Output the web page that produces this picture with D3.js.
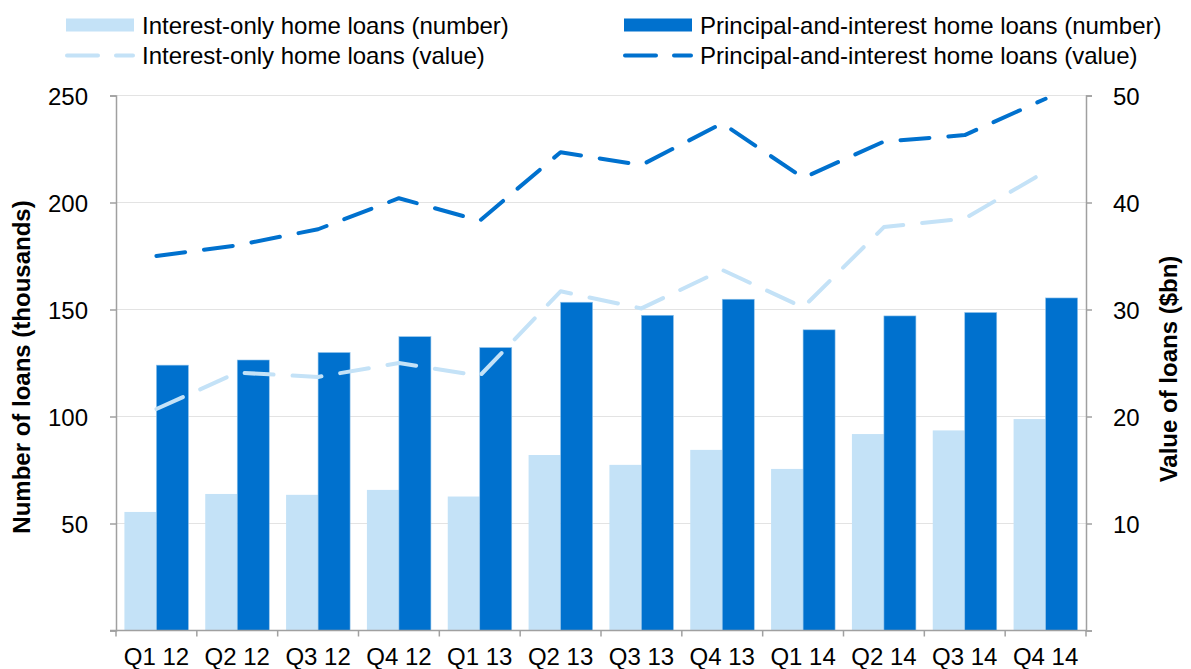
<!DOCTYPE html>
<html>

<head>
    <script src="https://d3js.org/d3.v7.min.js" charset="utf-8"></script>
    <style>
        body {
            margin: 0;
            background: #fff;
        }

        svg {
            font-family: "Liberation Sans", Arial, sans-serif;
        }

        .axis path,
        .axis line {
            stroke: #a0a0a0;
            stroke-width: 1.5;
        }

        .axis text {
            font-size: 24px;
            fill: #000;
        }

        .grid line {
            stroke: #e3e3e3;
            stroke-width: 1.2;
        }
    </style>
</head>

<body>
    <script>
        // Quarterly data
        var quarters = ["Q1 12", "Q2 12", "Q3 12", "Q4 12", "Q1 13", "Q2 13", "Q3 13", "Q4 13", "Q1 14", "Q2 14", "Q3 14", "Q4 14"];
        // number of loans, thousands (left axis)
        var ioNumber = [55.4, 63.8, 63.4, 65.7, 62.6, 82.0, 77.4, 84.4, 75.5, 91.8, 93.5, 98.8];
        var piNumber = [124.0, 126.4, 129.9, 137.3, 132.2, 153.4, 147.3, 154.8, 140.5, 147.0, 148.6, 155.4];
        // value of loans, $bn (right axis)
        var ioValue = [20.7, 24.1, 23.7, 25.0, 23.8, 31.7, 30.1, 33.7, 30.2, 37.7, 38.5, 42.9];
        var piValue = [35.0, 36.0, 37.5, 40.4, 38.3, 44.7, 43.5, 47.4, 42.3, 45.7, 46.3, 49.7];
        var leftTicks = [0, 50, 100, 150, 200, 250];
        var rightTicks = [0, 10, 20, 30, 40, 50];

        var lightBlue = "#c4e2f7",
            darkBlue = "#0071ce";

        var W = 1191,
            H = 669,
            margin = { top: 95.5, right: 105, bottom: 38.5, left: 116 },
            width = W - margin.left - margin.right,
            height = H - margin.top - margin.bottom;

        var svg = d3.select("body")
            .append("svg")
            .attr("width", W)
            .attr("height", H);

        var g = svg.append("g")
            .attr("transform", "translate(" + margin.left + "," + margin.top + ")");

        var x = d3.scaleBand()
            .domain(quarters)
            .range([0, width])
            .padding(0);

        var x1 = d3.scaleBand()
            .domain(["io", "pi"])
            .range([0, x.bandwidth()])
            .paddingInner(0)
            .paddingOuter(0.263);

        var yL = d3.scaleLinear().domain([0, 250]).range([height, 0]);
        var yR = d3.scaleLinear().domain([0, 50]).range([height, 0]);

        // gridlines
        g.append("g")
            .attr("class", "grid")
            .selectAll("line")
            .data(leftTicks.slice(1))
            .enter()
            .append("line")
            .attr("x1", 0)
            .attr("x2", width)
            .attr("y1", function (d) { return yL(d); })
            .attr("y2", function (d) { return yL(d); });

        // bars
        var groups = g.selectAll(".qtr")
            .data(quarters)
            .enter()
            .append("g")
            .attr("class", "qtr")
            .attr("transform", function (d) { return "translate(" + x(d) + ",0)"; });

        groups.append("rect")
            .attr("x", x1("io"))
            .attr("width", x1.bandwidth())
            .attr("y", function (d, i) { return yL(ioNumber[i]); })
            .attr("height", function (d, i) { return height - yL(ioNumber[i]); })
            .style("fill", lightBlue);

        groups.append("rect")
            .attr("x", x1("pi"))
            .attr("width", x1.bandwidth())
            .attr("y", function (d, i) { return yL(piNumber[i]); })
            .attr("height", function (d, i) { return height - yL(piNumber[i]); })
            .style("fill", darkBlue)
            .style("stroke", "#8fc2ea")
            .style("stroke-width", 0.6);

        // dashed value lines
        var line = d3.line()
            .x(function (d, i) { return x(quarters[i]) + x.bandwidth() / 2; })
            .y(function (d) { return yR(d); });

        [[ioValue, lightBlue], [piValue, darkBlue]].forEach(function (s) {
            g.append("path")
                .datum(s[0])
                .attr("d", line)
                .style("fill", "none")
                .style("stroke", s[1])
                .style("stroke-width", 4)
                .style("stroke-linecap", "round")
                .style("stroke-linejoin", "round")
                .style("stroke-dasharray", "29,19");
        });

        // axes
        var xAxis = d3.axisBottom(x).tickSize(0).tickPadding(17.5);
        var xg = g.append("g")
            .attr("class", "axis")
            .attr("transform", "translate(0," + height + ")")
            .call(xAxis);
        xg.select(".domain").attr("d", "M-6,0H" + width);
        // tick marks on the category boundaries
        xg.selectAll(".bound")
            .data(d3.range(quarters.length + 1))
            .enter()
            .append("line")
            .attr("class", "bound")
            .attr("x1", function (d) { return d * x.step(); })
            .attr("x2", function (d) { return d * x.step(); })
            .attr("y1", 0)
            .attr("y2", 6);

        g.append("g")
            .attr("class", "axis")
            .call(d3.axisLeft(yL)
                .tickValues(leftTicks)
                .tickSizeOuter(0)
                .tickSize(6)
                .tickPadding(22)
                .tickFormat(function (d) { return d === 0 ? "" : d; }))
            .selectAll(".tick text")
            .attr("dy", "0.36em");

        g.append("g")
            .attr("class", "axis")
            .attr("transform", "translate(" + width + ",0)")
            .call(d3.axisRight(yR)
                .tickValues(rightTicks)
                .tickSizeOuter(0)
                .tickSize(6)
                .tickPadding(21)
                .tickFormat(function (d) { return d === 0 ? "" : d; }))
            .selectAll(".tick text")
            .attr("dy", "0.36em");

        // axis titles
        svg.append("text")
            .attr("transform", "translate(30,367) rotate(-90)")
            .attr("text-anchor", "middle")
            .style("font-size", "24px")
            .style("font-weight", "bold")
            .text("Number of loans (thousands)");

        svg.append("text")
            .attr("transform", "translate(1177,369) rotate(-90)")
            .attr("text-anchor", "middle")
            .style("font-size", "24px")
            .style("font-weight", "bold")
            .text("Value of loans ($bn)");

        // legend
        var legendItems = [
            { label: "Interest-only home loans (number)", color: lightBlue, type: "bar", x: 66, y: 25 },
            { label: "Principal-and-interest home loans (number)", color: darkBlue, type: "bar", x: 624, y: 25 },
            { label: "Interest-only home loans (value)", color: lightBlue, type: "line", x: 66, y: 55.5 },
            { label: "Principal-and-interest home loans (value)", color: darkBlue, type: "line", x: 624, y: 55.5 }
        ];

        var leg = svg.selectAll(".legend")
            .data(legendItems)
            .enter()
            .append("g")
            .attr("class", "legend")
            .attr("transform", function (d) { return "translate(" + d.x + "," + d.y + ")"; });

        leg.filter(function (d) { return d.type === "bar"; })
            .append("rect")
            .attr("x", 0)
            .attr("y", -6.5)
            .attr("width", 68)
            .attr("height", 13)
            .style("fill", function (d) { return d.color; });

        leg.filter(function (d) { return d.type === "line"; })
            .append("path")
            .attr("d", "M1,0H32M50,0H67")
            .style("stroke", function (d) { return d.color; })
            .style("stroke-width", 4)
            .style("stroke-linecap", "round");

        leg.append("text")
            .attr("x", 76)
            .attr("dy", "0.36em")
            .style("font-size", "24px")
            .text(function (d) { return d.label; });
    </script>
</body>

</html>
